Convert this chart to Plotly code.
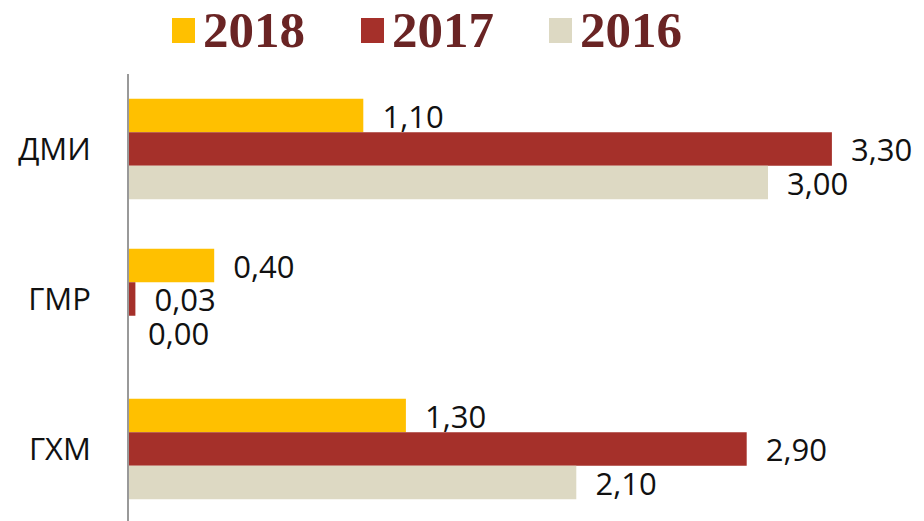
import plotly.graph_objects as go

categorias = ['ДМИ', 'ГМР', 'ГХМ']
anos = ['2018', '2017', '2016']
valores_2018 = [1.10, 0.40, 1.30]
valores_2017 = [3.30, 0.03, 2.90]
valores_2016 = [3.00, 0.00, 2.10]
cores = ['#FFC000', '#A5302A', '#DDD9C3']

# a página tem margem de 8px no body, então a figura fica deslocada
OFF = 8
W, H = 924 - OFF, 521 - OFF
ML, MT = 129 - OFF, 74 - OFF
PW, PH = W - ML, H - MT

def px_x(px):
    return (px - OFF - ML) / PW

def px_y(py):
    return (H - (py - OFF)) / PH

fig = go.Figure()
for ano, valores, cor in zip(anos, [valores_2018, valores_2017, valores_2016], cores):
    fig.add_trace(go.Bar(
        y=categorias,
        x=valores,
        name=ano,
        orientation='h',
        marker_color=cor,
        marker_line_width=0,
        texttemplate='\u00a0\u00a0%{x:.2f}',
        textposition='outside',
        constraintext='none',
        cliponaxis=False,
        textfont=dict(family='Open Sans', size=31, color='#111111'),
        showlegend=False,
    ))

# legenda desenhada à mão (quadrados grandes + texto serifado)
leg_x = [172, 361, 549]
for ano, cor, x0 in zip(anos, cores, leg_x):
    fig.add_shape(type='rect', xref='paper', yref='paper',
                  x0=px_x(x0), x1=px_x(x0 + 23), y0=px_y(43), y1=px_y(18),
                  fillcolor=cor, line_width=0)
    fig.add_annotation(text='<b>' + ano + '</b>', xref='paper', yref='paper',
                       x=px_x(x0 + 29), y=px_y(30), xanchor='left', yanchor='middle',
                       showarrow=False,
                       font=dict(family='Liberation Serif', size=51, color='#6A2424'))

fig.update_layout(
    width=W, height=H,
    margin=dict(l=ML, r=0, t=MT, b=0, autoexpand=False),
    barmode='group',
    bargap=0.33,
    bargroupgap=0,
    separators=', ',
    plot_bgcolor='white',
    paper_bgcolor='white',
    xaxis=dict(range=[0, (924 - 129) / 213], visible=False),
    yaxis=dict(
        range=[2.48, -0.5],
        automargin=False,
        showline=True, linecolor='#999999', linewidth=2,
        showgrid=False, zeroline=False,
        ticks='', ticklabelstandoff=30,
        tickfont=dict(family='Open Sans', size=31, color='#111111'),
    ),
)

fig.write_html('out.html')
